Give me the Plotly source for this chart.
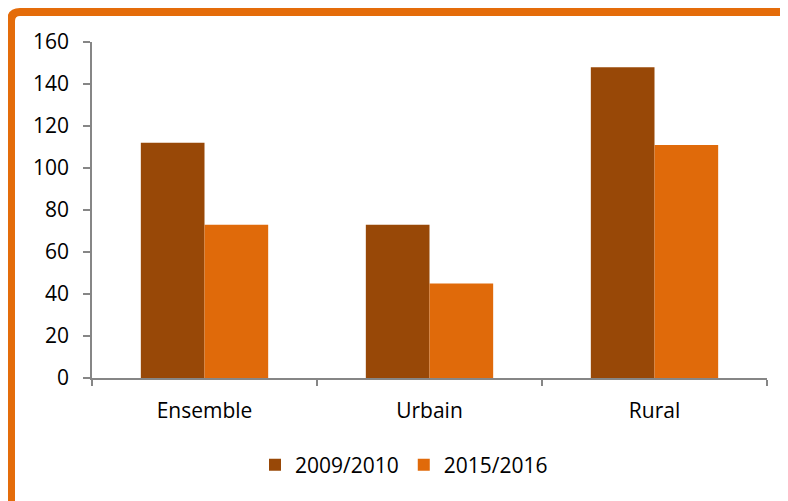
import plotly.graph_objects as go

categories = ["Ensemble", "Urbain", "Rural"]
series_names = ["2009/2010", "2015/2016"]
values_2009 = [112, 73, 148]
values_2015 = [73, 45, 111]
y_ticks = [0, 20, 40, 60, 80, 100, 120, 140, 160]

colors = ["#984807", "#E06A0A"]
frame_color = "#E46C0A"
axis_gray = "#868686"
font_family = "'Open Sans', sans-serif"

fig = go.Figure()
for name, vals, col in zip(series_names, [values_2009, values_2015], colors):
    fig.add_trace(go.Bar(
        x=categories, y=vals, name=name,
        marker=dict(color=col, line=dict(width=0)),
    ))

# page has an 8px body margin, so work in screen pixels and shift back
OFF = 8
W, H = 788, 501
L, R, T, B = 92 - OFF, 767 - OFF, 42 - OFF, 378 - OFF


def px_x(p):
    return (p - OFF - L) / (R - L)


def px_y(p):
    return (B - (p - OFF)) / (B - T)


r = 9
fx, fy = 11, 12
frame_path = (
    f"M {px_x(fx)},{px_y(540)} L {px_x(fx)},{px_y(fy + r)} "
    f"Q {px_x(fx)},{px_y(fy)} {px_x(fx + r)},{px_y(fy)} "
    f"L {px_x(830)},{px_y(fy)}"
)

fig.update_layout(
    width=W, height=H,
    margin=dict(l=L, r=W - R, t=T, b=H - B),
    paper_bgcolor="white", plot_bgcolor="white",
    barmode="group", bargap=0.434, bargroupgap=0,
    font=dict(family=font_family, size=21, color="black"),
    showlegend=True,
    legend=dict(
        orientation="h", x=px_x(404), xanchor="center", y=px_y(465), yanchor="middle",
        font=dict(size=21), itemwidth=30, tracegroupgap=0,
    ),
    shapes=[dict(
        type="path", xref="paper", yref="paper", path=frame_path,
        line=dict(color=frame_color, width=8), layer="above",
    )],
    xaxis=dict(
        showline=True, linecolor=axis_gray, linewidth=1.5,
        ticks="outside", tickson="boundaries", ticklen=6, tickcolor=axis_gray,
        tickwidth=1.5, showgrid=False, ticklabelstandoff=13,
    ),
    yaxis=dict(
        range=[0, 160], tickvals=y_ticks, showline=True, linecolor=axis_gray,
        linewidth=1.5, ticks="outside", ticklen=7, tickcolor=axis_gray,
        tickwidth=1.5, showgrid=False, zeroline=False, ticklabelstandoff=10,
    ),
)

fig.write_html("out.html")
